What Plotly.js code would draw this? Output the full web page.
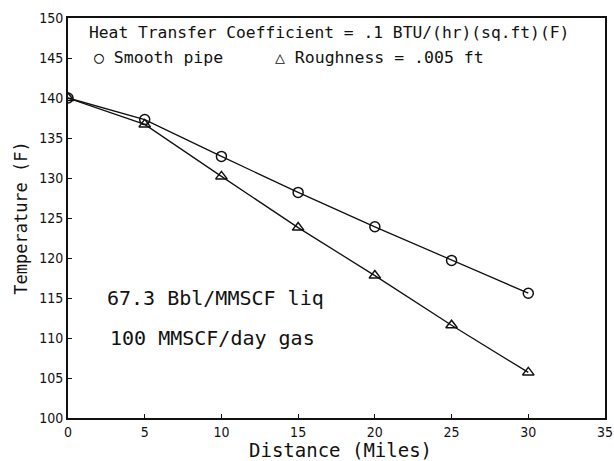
<!DOCTYPE html>
<html><head><meta charset="utf-8">
<script src="https://cdn.plot.ly/plotly-3.0.1.min.js"></script>
<style>body{margin:0;background:#fff}#c{width:614px;height:461px}</style>
</head><body><div id="c"></div>
<script>
const distance = [0, 5, 10, 15, 20, 25, 30];
const smoothPipe = [140, 137.3, 132.7, 128.2, 123.9, 119.7, 115.6];
const roughPipe = [140, 136.7, 130.2, 123.8, 117.8, 111.6, 105.7];
const xTicks = [0, 5, 10, 15, 20, 25, 30, 35];
const yTicks = [100, 105, 110, 115, 120, 125, 130, 135, 140, 145, 150];

const F = "Liberation Sans Narrow, DejaVu Sans Condensed, Arial Narrow, sans-serif";
const M = "DejaVu Sans Mono, monospace";
const traces = [
  {x: distance, y: smoothPipe, mode: "lines+markers", name: "Smooth pipe",
   line: {color: "#111", width: 1.3},
   marker: {symbol: "circle-open", size: 10, color: "#111", line: {width: 1.5}}},
  {x: distance, y: roughPipe, mode: "lines+markers", name: "Roughness = .005 ft",
   line: {color: "#111", width: 1.3},
   marker: {symbol: "triangle-up-open", size: 10, color: "#111", line: {width: 1.5}}}
];
const layout = {
  width: 614, height: 461,
  margin: {l: 68, r: 9, t: 18, b: 43},
  paper_bgcolor: "#fff", plot_bgcolor: "#fff",
  showlegend: false,
  font: {family: F, color: "#111", size: 15},
  xaxis: {range: [0, 35], tickvals: xTicks, ticktext: xTicks.map(String),
    showgrid: false, zeroline: false, showline: true, linecolor: "#111", linewidth: 2,
    mirror: true, ticks: "inside", ticklen: 4, tickcolor: "#111",
    tickfont: {family: F, size: 14}},
  yaxis: {range: [100, 150], tickvals: yTicks, ticktext: yTicks.map(String),
    showgrid: false, zeroline: false, showline: true, linecolor: "#111", linewidth: 2,
    mirror: true, ticks: "inside", ticklen: 4, tickcolor: "#111",
    tickfont: {family: F, size: 14}},
  annotations: [
    {xref: "paper", yref: "paper", x: 0.035, y: 0.965, xanchor: "left", yanchor: "middle",
     text: "Heat Transfer Coefficient = .1 BTU/(hr)(sq.ft)(F)", showarrow: false,
     font: {family: M, size: 16.3}},
    {xref: "paper", yref: "paper", x: 0.045, y: 0.9, xanchor: "left", yanchor: "middle",
     text: "○ Smooth pipe", showarrow: false, font: {family: M, size: 16.5}},
    {xref: "paper", yref: "paper", x: 0.381, y: 0.9, xanchor: "left", yanchor: "middle",
     text: "△ Roughness = .005 ft", showarrow: false, font: {family: M, size: 16.5}},
    {xref: "paper", yref: "paper", x: 0.068, y: 0.3, xanchor: "left", yanchor: "middle",
     text: "67.3 Bbl/MMSCF liq", showarrow: false, font: {family: M, size: 20}},
    {xref: "paper", yref: "paper", x: 0.074, y: 0.2, xanchor: "left", yanchor: "middle",
     text: "100 MMSCF/day gas", showarrow: false, font: {family: M, size: 20}},
    {xref: "paper", yref: "paper", x: 0.508, y: -0.112, xanchor: "center", yanchor: "bottom",
     text: "Distance (Miles)", showarrow: false, font: {family: M, size: 19}},
    {xref: "paper", yref: "paper", x: -0.088, y: 0.5, xanchor: "center", yanchor: "middle",
     textangle: -90, text: "Temperature (F)", showarrow: false, font: {family: M, size: 17}}
  ]
};
Plotly.newPlot("c", traces, layout, {displayModeBar: false, staticPlot: true});
</script></body></html>
